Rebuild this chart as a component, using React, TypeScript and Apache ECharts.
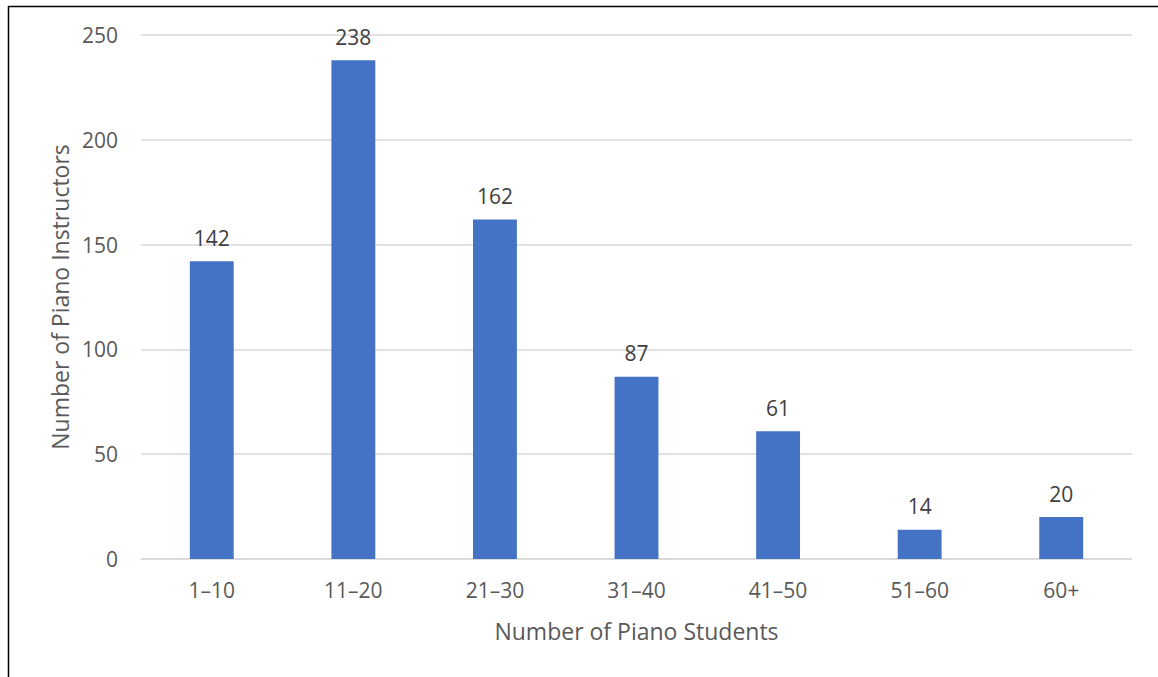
import React, { useEffect, useRef } from "react";
import * as echarts from "echarts";

// Distribution of piano instructors by the size of their studio
const studentRanges = ["1–10", "11–20", "21–30", "31–40", "41–50", "51–60", "60+"];
const instructorCounts = [142, 238, 162, 87, 61, 14, 20];
const yTicks = { min: 0, max: 250, interval: 50 };

const FONT = "'Open Sans', 'Noto Sans', sans-serif";

export default function App() {
  const ref = useRef<HTMLDivElement>(null);

  useEffect(() => {
    if (!ref.current) return;
    const chart = echarts.init(ref.current, undefined, { renderer: "svg" });
    chart.setOption({
      animation: false,
      backgroundColor: "#ffffff",
      textStyle: { fontFamily: FONT },
      grid: { left: 141, right: 26, top: 35, bottom: 118 },
      xAxis: {
        type: "category",
        data: studentRanges,
        name: "Number of Piano Students",
        nameLocation: "middle",
        nameGap: 60,
        nameTextStyle: { fontSize: 23, color: "#595959", fontFamily: FONT },
        axisLine: { lineStyle: { color: "#d9d9d9", width: 1.5 } },
        axisTick: { show: false },
        axisLabel: { fontSize: 21, color: "#595959", margin: 20, fontFamily: FONT },
      },
      yAxis: {
        type: "value",
        min: yTicks.min,
        max: yTicks.max,
        interval: yTicks.interval,
        name: "Number of Piano Instructors",
        nameLocation: "middle",
        nameGap: 70,
        nameTextStyle: { fontSize: 23, color: "#595959", fontFamily: FONT },
        axisLine: { show: false },
        axisTick: { show: false },
        axisLabel: { fontSize: 21, color: "#595959", margin: 23, fontFamily: FONT },
        splitLine: { lineStyle: { color: "#d9d9d9", width: 1.5 } },
      },
      series: [
        {
          type: "bar",
          data: instructorCounts,
          barWidth: "31%",
          itemStyle: { color: "#4472C4" },
          label: {
            show: true,
            position: "top",
            distance: 13,
            fontSize: 21,
            color: "#404040",
            fontFamily: FONT,
          },
        },
      ],
      graphic: [
        {
          type: "line",
          shape: { x1: 8.5, y1: 6, x2: 8.5, y2: 677 },
          style: { stroke: "#000000", lineWidth: 1.5 },
        },
        {
          type: "line",
          shape: { x1: 8, y1: 6.5, x2: 1158, y2: 6.5 },
          style: { stroke: "#000000", lineWidth: 1.5 },
        },
      ],
    });
    return () => chart.dispose();
  }, []);

  return (
    <div
      ref={ref}
      style={{ position: "fixed", left: 0, top: 0, width: 1158, height: 677 }}
    />
  );
}
